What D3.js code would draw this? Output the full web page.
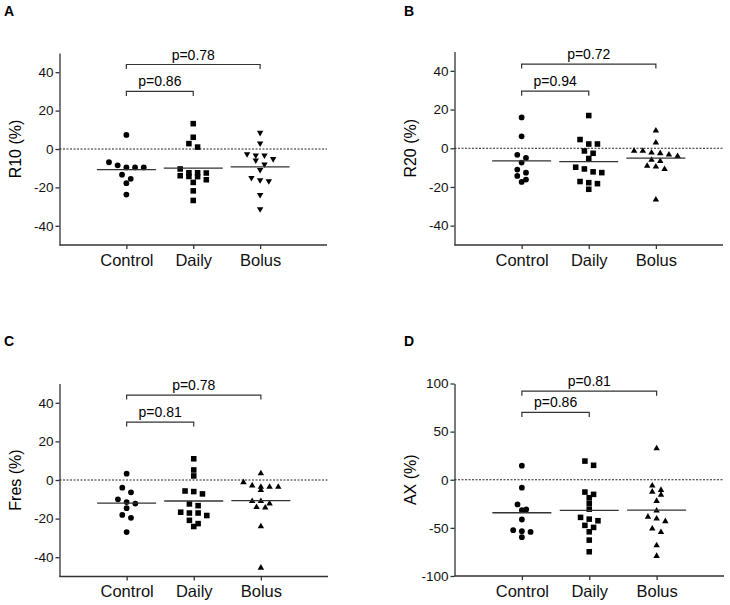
<!DOCTYPE html>
<html>
<head>
<meta charset="utf-8" />
<title>Control vs Daily vs Bolus</title>
<script src="https://cdn.jsdelivr.net/npm/d3@7"></script>
<style>
body { margin: 0; background: #fff; }
svg { display: block; background: #fff; font-family: "Liberation Sans", Arial, sans-serif; }
.axis path, .axis line { stroke: #333; stroke-width: 1.3px; }
.axis text { fill: #111; }
</style>
</head>
<body>
<div id="chart"></div>
<script>
// groups on the x axis
var categories = ["Control", "Daily", "Bolus"];

// R10 (%)
var r10Control = [7.3, -6.9, -9.6, -9.6, -9.6, -8.5, -13.4, -15.5, -17.8, -23.7];
var r10Daily = [13.2, 6.1, 2.8, 1.0, -10.4, -12.4, -12.5, -14.3, -14.4, -13.9, -12.4, -16.0, -17.4, -21.8, -26.8];
var r10Bolus = [8.5, 3.0, -2.6, -3.3, -3.3, -5.2, -5.9, -8.0, -10.8, -15.0, -16.7, -16.2, -23.9, -31.3];

// R20 (%)
var r20Control = [15.9, 6.2, -3.4, -5.0, -7.4, -11.0, -12.6, -14.3, -17.4, -16.2];
var r20Daily = [16.9, 4.5, 2.2, 2.2, -1.4, -2.6, -5.3, -9.8, -12.2, -12.6, -10.7, -17.8, -18.3, -17.2, -21.2];
var r20Bolus = [9.1, 2.9, -2.3, -3.3, -1.4, -1.4, -2.6, -4.1, -6.7, -6.0, -9.5, -10.8, -9.1, -26.6];

// Fres (%)
var fresControl = [3.3, -4.0, -6.4, -11.4, -10.0, -12.2, -14.6, -18.1, -19.6, -27.0];
var fresDaily = [11.0, 5.2, 2.1, -6.0, -7.2, -5.7, -13.3, -12.4, -16.7, -17.1, -17.1, -18.4, -20.9, -22.6, -24.1];
var fresBolus = [3.4, -1.2, -3.6, -3.6, -5.3, -3.6, -2.9, -11.0, -12.2, -14.3, -14.1, -11.0, -24.1, -45.5];

// AX (%)
var axControl = [14.6, -8.3, -25.7, -31.6, -30.9, -41.3, -53.5, -54.2, -52.4, -59.7];
var axDaily = [19.4, 15.0, -12.8, -15.2, -18.7, -24.5, -30.5, -42.6, -39.1, -40.9, -49.5, -54.1, -47.4, -62.7, -74.8];
var axBolus = [32.6, -6.2, -12.5, -15.6, -10.7, -22.1, -32.2, -40.5, -38.5, -43.2, -50.9, -54.4, -68.2, -79.3];

// tick labels
var pctTicks = [-40, -20, 0, 20, 40];
var axTicks = [-100, -50, 0, 50, 100];

// p values: [Control vs Daily, Control vs Bolus]
var r10P = ["p=0.86", "p=0.78"];
var r20P = ["p=0.94", "p=0.72"];
var fresP = ["p=0.81", "p=0.78"];
var axP = ["p=0.86", "p=0.81"];

var width = 730, height = 605;

var svg = d3.select("#chart").append("svg")
    .attr("width", width)
    .attr("height", height);

/* one entry per panel: where it sits and what it shows */
var panels = [
    { letter: "A", title: "R10 (%)", groups: [r10Control, r10Daily, r10Bolus], p: r10P,
      domain: [-50, 50], ticks: pctTicks, bolusSym: "down", brackets: [30, 44],
      x0: 59.5, x1: 327, top: 53, bottom: 245, lx: 4, ly: 16 },
    { letter: "B", title: "R20 (%)", groups: [r20Control, r20Daily, r20Bolus], p: r20P,
      domain: [-50, 50], ticks: pctTicks, bolusSym: "up", brackets: [29.5, 43.5],
      x0: 454.5, x1: 723, top: 51.5, bottom: 245, lx: 404, ly: 16 },
    { letter: "C", title: "Fres (%)", groups: [fresControl, fresDaily, fresBolus], p: fresP,
      domain: [-50, 50], ticks: pctTicks, bolusSym: "up", brackets: [30, 44],
      x0: 59.5, x1: 328, top: 383.5, bottom: 576.5, lx: 4, ly: 346 },
    { letter: "D", title: "AX (%)", groups: [axControl, axDaily, axBolus], p: axP,
      domain: [-100, 100], ticks: axTicks, bolusSym: "up", brackets: [70, 92],
      x0: 454.5, x1: 724, top: 383.5, bottom: 576, lx: 404, ly: 346 }
];

/* simple column scatter: points that sit on the same row are spread sideways */
function swarm(values, y, cx) {
    var pts = values.map(function(v) { return { v: v, y: y(v) }; })
        .sort(function(a, b) { return a.y - b.y; });
    var rows = [], cur = null;
    pts.forEach(function(p) {
        if (cur && p.y - cur[0].y < 5.5) cur.push(p);
        else { cur = [p]; rows.push(cur); }
    });
    rows.forEach(function(r) {
        var n = r.length;
        r.forEach(function(p, i) { p.x = cx + (i - (n - 1) / 2) * 8.7; });
    });
    return pts;
}

panels.forEach(function(pn) {
    var g = svg.append("g");

    var x = d3.scalePoint().domain(categories).range([pn.x0, pn.x1]).padding(1);
    var y = d3.scaleLinear().domain(pn.domain).range([pn.bottom, pn.top]);

    // panel letter
    g.append("text")
        .attr("x", pn.lx).attr("y", pn.ly)
        .style("font-size", "14px").style("font-weight", "bold")
        .text(pn.letter);

    // y axis
    var ya = g.append("g").attr("class", "axis")
        .attr("transform", "translate(" + pn.x0 + ",0)")
        .call(d3.axisLeft(y).tickValues(pn.ticks).tickSize(4).tickPadding(2).tickSizeOuter(0)
            .tickFormat(function(d) { return String(d).replace("\u2212", "-"); }));
    ya.selectAll("text").style("font-size", "13.5px");

    // x axis
    var xa = g.append("g").attr("class", "axis")
        .attr("transform", "translate(0," + pn.bottom + ")")
        .call(d3.axisBottom(x).tickSize(4).tickPadding(5).tickSizeOuter(0));
    xa.select(".domain").attr("d", "M" + pn.x0 + ",0H" + pn.x1);
    xa.selectAll("text").style("font-size", "16.5px");

    // y title
    g.append("text")
        .attr("transform", "translate(" + (pn.x0 - 43.8) + "," + ((pn.top + pn.bottom) / 2) + ") rotate(-90)")
        .attr("text-anchor", "middle").attr("dy", "0.35em")
        .style("font-size", "16px")
        .text(pn.title);

    // zero reference line
    g.append("line")
        .attr("x1", pn.x0).attr("x2", pn.x1)
        .attr("y1", y(0)).attr("y2", y(0))
        .attr("stroke", "#222").attr("stroke-width", 1)
        .attr("stroke-dasharray", "2,1.5");

    // points + mean lines
    var shapes = [d3.symbolCircle, d3.symbolSquare, d3.symbolTriangle];
    var sizes = [26, 31, 18];
    pn.groups.forEach(function(vals, i) {
        var cx = x(categories[i]);
        var pts = swarm(vals, y, cx);
        g.append("g").selectAll("path")
            .data(pts)
            .enter().append("path")
            .attr("d", d3.symbol().type(shapes[i]).size(sizes[i]))
            .attr("transform", function(d) {
                var t = "translate(" + d.x + "," + d.y + ")";
                if (i === 2 && pn.bolusSym === "down") t += " rotate(180)";
                return t;
            })
            .attr("fill", "#000");
        var m = d3.mean(vals);
        g.append("line")
            .attr("x1", cx - 29.5).attr("x2", cx + 29.5)
            .attr("y1", y(m)).attr("y2", y(m))
            .attr("stroke", "#333").attr("stroke-width", 1.3);
    });

    // significance brackets
    var pairs = [[0, 1], [0, 2]];
    pairs.forEach(function(pr, k) {
        var xa0 = x(categories[pr[0]]), xa1 = x(categories[pr[1]]);
        var yy = y(pn.brackets[k]);
        g.append("path")
            .attr("d", "M" + xa0 + "," + (yy + 4.5) + "V" + yy + "H" + xa1 + "V" + (yy + 4.5))
            .attr("fill", "none").attr("stroke", "#333").attr("stroke-width", 1.2);
        g.append("text")
            .attr("x", (xa0 + xa1) / 2).attr("y", yy - 5)
            .attr("text-anchor", "middle")
            .style("font-size", "14px")
            .text(pn.p[k]);
    });
});
</script>
</body>
</html>
